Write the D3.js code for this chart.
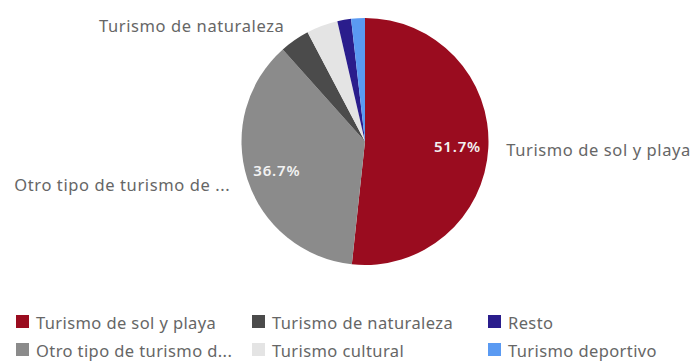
<!DOCTYPE html>
<html>
<head>
<meta charset="utf-8">
<script src="https://cdn.jsdelivr.net/npm/d3@7"></script>
<style>
  html, body { margin: 0; padding: 0; background: #fff; }
  svg { display: block; font-family: "Noto Sans", "Open Sans", sans-serif; }
</style>
</head>
<body>
<svg id="chart" width="696" height="363"></svg>
<script>
const categories = ["Turismo de sol y playa", "Otro tipo de turismo de ocio", "Turismo de naturaleza", "Turismo cultural", "Resto", "Turismo deportivo"];
const values = [51.7, 36.7, 3.9, 4.1, 1.8, 1.8];
const colors = ["#9a0c1f", "#8b8b8b", "#4b4b4b", "#e4e4e4", "#2a1d8c", "#5a9af2"];
const sliceLabels = ["Turismo de sol y playa", "Otro tipo de turismo de ...", "Turismo de naturaleza", "", "", ""];
const legendLabels = ["Turismo de sol y playa", "Otro tipo de turismo d...", "Turismo de naturaleza", "Turismo cultural", "Resto", "Turismo deportivo"];

const data = categories.map((c, i) => ({ name: c, value: values[i], color: colors[i], label: sliceLabels[i], legend: legendLabels[i] }));

const svg = d3.select("#chart");
const cx = 365, cy = 141.5, r = 123.5;

const pie = d3.pie().value(d => d.value).sort(null);
const arcs = pie(data);
const arc = d3.arc().innerRadius(0).outerRadius(r);
const labelArc = d3.arc().innerRadius(r * 0.75).outerRadius(r * 0.75);
const outerArc = d3.arc().innerRadius(r + 18).outerRadius(r + 18);

const g = svg.append("g").attr("transform", `translate(${cx},${cy})`);
g.selectAll("path.slice").data(arcs).join("path")
  .attr("class", "slice")
  .attr("d", arc)
  .attr("fill", d => d.data.color);

// percentage labels on the two big slices
g.selectAll("text.pct").data(arcs.filter(d => d.data.value > 10)).join("text")
  .attr("class", "pct")
  .attr("transform", d => `translate(${labelArc.centroid(d)})`)
  .attr("text-anchor", "middle")
  .attr("dominant-baseline", "central")
  .attr("fill", "#f2f2f2")
  .attr("font-size", 15)
  .attr("font-weight", 600)
  .attr("letter-spacing", 0.8)
  .text(d => d.data.value.toFixed(1) + "%");

// outside labels
g.selectAll("text.out").data(arcs.filter(d => d.data.label)).join("text")
  .attr("class", "out")
  .attr("transform", d => {
    const [x, y] = outerArc.centroid(d);
    return `translate(${x},${y})`;
  })
  .attr("text-anchor", d => ((d.startAngle + d.endAngle) / 2 < Math.PI ? "start" : "end"))
  .attr("dominant-baseline", "central")
  .attr("fill", "#666")
  .attr("font-size", 16.5)
  .attr("letter-spacing", 0.6)
  .text(d => d.data.label);

// legend
const colX = [16, 252, 488];
const rowY = [322, 350];
const leg = svg.append("g");
data.forEach((d, i) => {
  const col = Math.floor(i / 2), row = i % 2;
  const item = leg.append("g").attr("transform", `translate(${colX[col]},${rowY[row]})`);
  item.append("rect").attr("x", 0).attr("y", -7).attr("width", 13).attr("height", 13).attr("fill", d.color);
  item.append("text").attr("x", 20).attr("y", 0)
    .attr("dominant-baseline", "central")
    .attr("fill", "#666")
    .attr("font-size", 16.5)
    .attr("letter-spacing", 0.4)
    .text(d.legend);
});
</script>
</body>
</html>
